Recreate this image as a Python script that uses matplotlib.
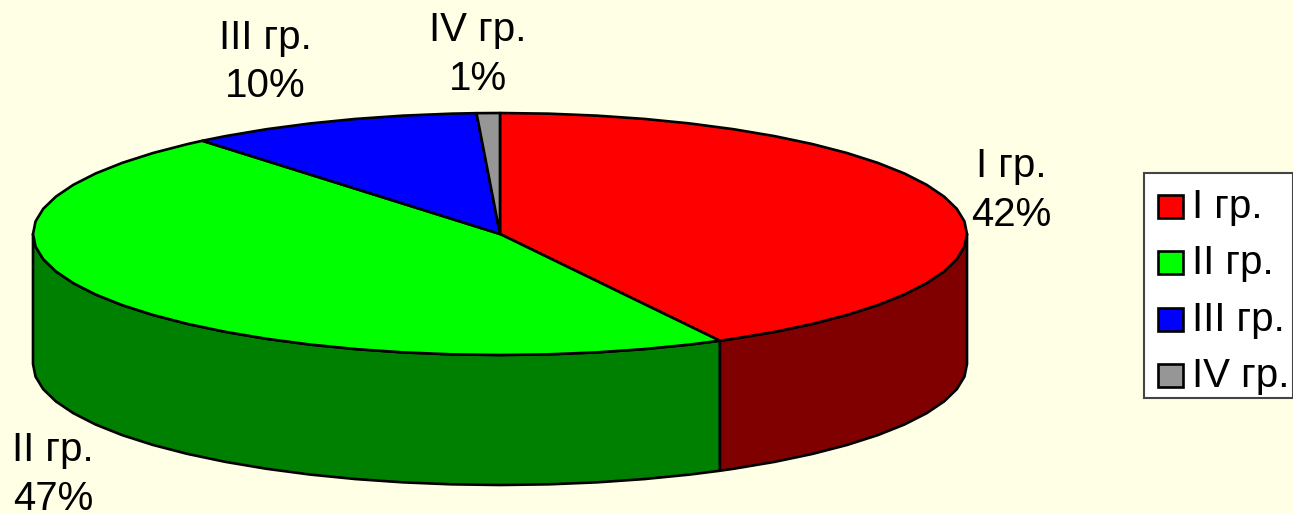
import numpy as np
import matplotlib
matplotlib.use("Agg")
import matplotlib.pyplot as plt
from matplotlib.patches import Polygon, Rectangle

categories = ["I гр.", "II гр.", "III гр.", "IV гр."]
values = [42.2, 46.8, 10.2, 0.8]
percent_labels = ["42%", "47%", "10%", "1%"]
top_colors = ["#FF0000", "#00FF00", "#0000FF", "#969696"]
side_colors = ["#800000", "#008000", "#000080", "#4B4B4B"]
label_positions = [(1011, 190.5), (53, 474.5), (265, 62), (478, 54.5)]

BG = "#FFFFE5"
CX, CY, RX, RY, DEPTH = 500, 234, 467, 121, 130
FS = 29
STEP = 6
LW = 1.9

plt.rcParams["font.family"] = ["Liberation Sans", "DejaVu Sans"]
fig = plt.figure(figsize=(12.93, 5.13), dpi=100, facecolor=BG)
ax = fig.add_axes([0, 0, 1, 1])
ax.set_xlim(0, 1293)
ax.set_ylim(513, 0)
ax.axis("off")


def rim(a0, a1):
    # coarse faceted rim: vertices on a fixed angular grid plus the two ends
    grid = np.arange(0, 360 + STEP, STEP)
    mid = grid[(grid > a0) & (grid < a1)]
    t = np.radians(np.r_[a0, mid, a1])
    return CX + RX * np.sin(t), CY - RY * np.cos(t)


edges = np.concatenate([[0], np.cumsum(values)]) * 3.6

# Side walls (only the front half of the ellipse is visible: 90..270 deg)
for i in range(len(values)):
    a0, a1 = max(edges[i], 90), min(edges[i + 1], 270)
    if a1 <= a0:
        continue
    x, y = rim(a0, a1)
    pts = np.r_[np.c_[x, y], np.c_[x[::-1], y[::-1] + DEPTH]]
    ax.add_patch(Polygon(pts, closed=True, fc=side_colors[i], ec="black", lw=LW, joinstyle="round"))

# Top faces
for i in range(len(values)):
    x, y = rim(edges[i], edges[i + 1])
    pts = np.r_[[[CX, CY]], np.c_[x, y]]
    ax.add_patch(Polygon(pts, closed=True, fc=top_colors[i], ec="black", lw=LW, joinstyle="round"))

# Data labels
for cat, pct, (lx, ly) in zip(categories, percent_labels, label_positions):
    ax.text(lx, ly, f"{cat}\n{pct}", ha="center", va="center", fontsize=FS,
            color="black", linespacing=1.36)

# Legend
ax.add_patch(Rectangle((1143.5, 172.5), 149, 225, fc="white", ec="#444444", lw=1.5))
for i, cat in enumerate(categories):
    yc = 206 + i * 56.3
    ax.add_patch(Rectangle((1158, yc - 11), 25, 23, fc=top_colors[i], ec="black", lw=LW))
    ax.text(1192, yc + 1, cat, ha="left", va="center", fontsize=FS, color="black")

fig.savefig("out.png", dpi=100, facecolor=BG)
